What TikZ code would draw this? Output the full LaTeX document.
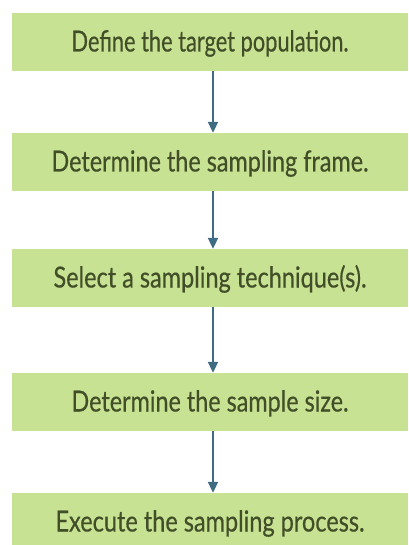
\documentclass[tikz,border=0pt]{standalone}
\usepackage{fontspec}
\setmainfont{Lato}
\newfontfamily\labelfont[FakeBold=0.5]{Lato}
\usetikzlibrary{arrows.meta}
\definecolor{boxgreen}{RGB}{198,226,146}
\definecolor{textolive}{RGB}{66,78,40}
\definecolor{arrowteal}{RGB}{62,108,132}
\tikzset{
  stepbox/.style={fill=boxgreen, draw=none, minimum width=396pt, minimum height=58pt,
    inner sep=0pt, text height=21pt, text depth=2pt, text=textolive},
  flow/.style={draw=arrowteal, line width=2pt, -{Triangle[width=10pt,length=11pt]}}
}
% Fixed-width label: keeps the natural height, stretches to width #1
\newcommand{\steplabel}[2]{\resizebox{#1}{\height}{\labelfont\fontsize{29}{34}\selectfont #2}}
\begin{document}
\begin{tikzpicture}[x=1pt,y=-1pt]
  \useasboundingbox (0,0) rectangle (408,545);
  \fill[white] (0,0) rectangle (408,545);
  \node[stepbox] (s1) at (210,42)  {\steplabel{277pt}{Define the target population.}};
  \node[stepbox] (s2) at (210,162) {\steplabel{317pt}{Determine the sampling frame.}};
  \node[stepbox] (s3) at (210,278) {\steplabel{313pt}{Select a sampling technique(s).}};
  \node[stepbox] (s4) at (210,402) {\steplabel{277pt}{Determine the sample size.}};
  \node[stepbox] (s5) at (210,522) {\steplabel{309pt}{Execute the sampling process.}};
  \draw[flow] (s1.south -| 213,0) -- (s2.north -| 213,0);
  \draw[flow] (s2.south -| 213,0) -- (s3.north -| 213,0);
  \draw[flow] (s3.south -| 213,0) -- (s4.north -| 213,0);
  \draw[flow] (s4.south -| 213,0) -- (s5.north -| 213,0);
\end{tikzpicture}
\end{document}
